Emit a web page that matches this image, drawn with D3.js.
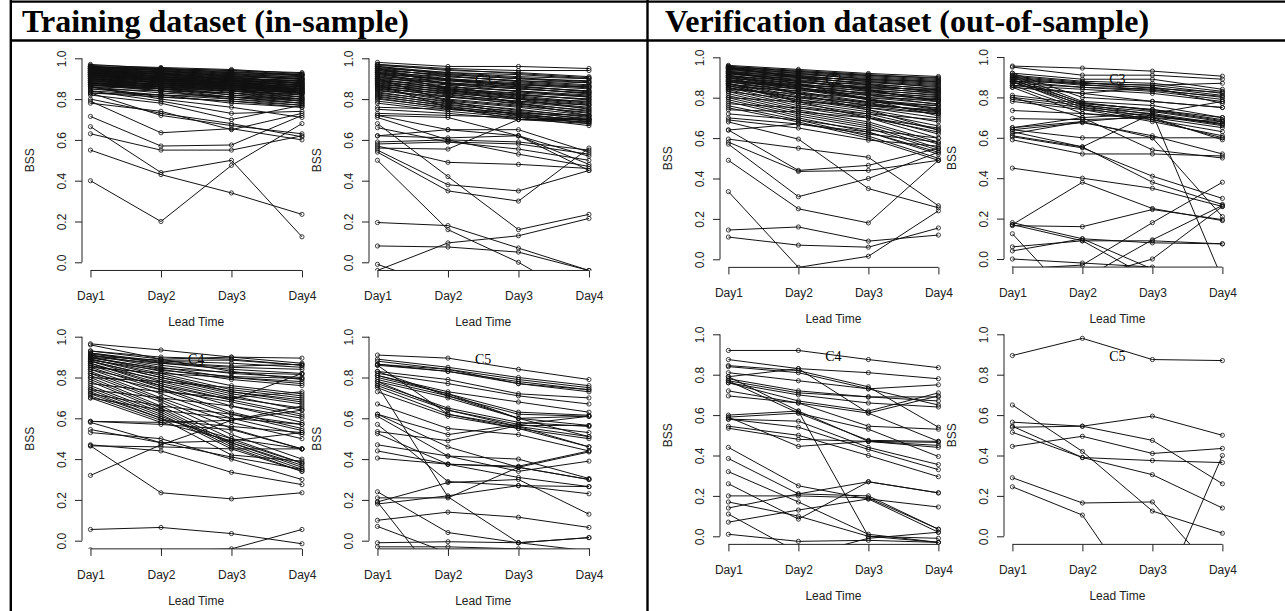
<!DOCTYPE html>
<html lang="en">
<head>
<meta charset="UTF-8">
<title>BSS by lead time</title>
<script src="https://cdn.jsdelivr.net/npm/d3@7"></script>
<style>
  body { margin: 0; background: #fff; }
  svg text { font-family: "Liberation Sans", Arial, sans-serif; }
</style>
</head>
<body>
<div id="chart"></div>
<script>
// lead times on the x axis
const days = ["Day1", "Day2", "Day3", "Day4"];
const yTicks = [0, 0.2, 0.4, 0.6, 0.8, 1.0];
const headers = ["Training dataset (in-sample)", "Verification dataset (out-of-sample)"];

// BSS per station, one row = Day1..Day4
const trainC2 = [
  [0.40, 0.20, 0.475, 0.68], [0.55, 0.43, 0.34, 0.235], [0.665, 0.44, 0.50, 0.125],
  [0.63, 0.55, 0.55, 0.62], [0.715, 0.57, 0.575, 0.72], [0.79, 0.635, 0.655, 0.60],
  [0.83, 0.72, 0.67, 0.63], [0.80, 0.73, 0.68, 0.615], [0.84, 0.79, 0.73, 0.74],
  [0.82, 0.78, 0.70, 0.77], [0.78, 0.74, 0.65, 0.73], [0.86, 0.80, 0.76, 0.71],
  [0.83, 0.82, 0.78, 0.76],
  [0.97, 0.95, 0.94, 0.93], [0.96, 0.95, 0.93, 0.92], [0.96, 0.94, 0.92, 0.91],
  [0.95, 0.94, 0.93, 0.92], [0.95, 0.93, 0.91, 0.90], [0.95, 0.92, 0.90, 0.89],
  [0.94, 0.93, 0.92, 0.90], [0.94, 0.92, 0.90, 0.88], [0.94, 0.91, 0.89, 0.87],
  [0.93, 0.92, 0.91, 0.90], [0.93, 0.91, 0.89, 0.88], [0.93, 0.90, 0.88, 0.86],
  [0.92, 0.91, 0.90, 0.89], [0.92, 0.90, 0.88, 0.86], [0.92, 0.89, 0.87, 0.85],
  [0.91, 0.90, 0.89, 0.88], [0.91, 0.89, 0.87, 0.85], [0.91, 0.88, 0.86, 0.84],
  [0.90, 0.89, 0.88, 0.87], [0.90, 0.88, 0.86, 0.84], [0.90, 0.87, 0.85, 0.83],
  [0.89, 0.88, 0.87, 0.86], [0.89, 0.87, 0.85, 0.83], [0.89, 0.86, 0.84, 0.82],
  [0.88, 0.87, 0.86, 0.85], [0.88, 0.86, 0.84, 0.81], [0.88, 0.85, 0.83, 0.80],
  [0.87, 0.86, 0.85, 0.83], [0.87, 0.85, 0.82, 0.80], [0.87, 0.84, 0.81, 0.79],
  [0.86, 0.85, 0.84, 0.82], [0.86, 0.83, 0.81, 0.78], [0.85, 0.84, 0.83, 0.81],
  [0.85, 0.82, 0.80, 0.78], [0.84, 0.82, 0.81, 0.80], [0.86, 0.81, 0.79, 0.76],
  [0.83, 0.81, 0.79, 0.77], [0.88, 0.84, 0.80, 0.77], [0.91, 0.86, 0.82, 0.79],
  [0.94, 0.90, 0.85, 0.81], [0.96, 0.93, 0.89, 0.84], [0.93, 0.89, 0.84, 0.80],
  [0.90, 0.85, 0.81, 0.78], [0.95, 0.91, 0.87, 0.83], [0.92, 0.88, 0.83, 0.79],
  [0.965, 0.955, 0.945, 0.925], [0.96, 0.945, 0.935, 0.915], [0.955, 0.95, 0.94, 0.92],
  [0.95, 0.945, 0.925, 0.915], [0.945, 0.935, 0.925, 0.905], [0.94, 0.935, 0.915, 0.90],
  [0.935, 0.925, 0.915, 0.895], [0.93, 0.925, 0.905, 0.89], [0.925, 0.915, 0.905, 0.885],
  [0.92, 0.915, 0.895, 0.88], [0.915, 0.905, 0.895, 0.875], [0.91, 0.905, 0.885, 0.87],
  [0.905, 0.895, 0.885, 0.865], [0.90, 0.895, 0.875, 0.86], [0.895, 0.885, 0.875, 0.855],
  [0.89, 0.885, 0.865, 0.85], [0.885, 0.875, 0.865, 0.845], [0.88, 0.875, 0.855, 0.84],
  [0.875, 0.865, 0.855, 0.835], [0.87, 0.865, 0.845, 0.83], [0.865, 0.855, 0.84, 0.825],
  [0.955, 0.94, 0.91, 0.875], [0.945, 0.925, 0.895, 0.865], [0.935, 0.91, 0.88, 0.85],
  [0.925, 0.90, 0.87, 0.84], [0.915, 0.895, 0.86, 0.83]
];

const trainC3 = [
  [0.50, 0.16, 0.00, -0.20], [0.68, 0.42, 0.16, 0.235], [0.195, 0.18, 0.07, -0.04],
  [0.08, 0.075, 0.05, -0.04], [-0.04, 0.095, 0.13, 0.215], [-0.01, -0.13, -0.15, -0.12],
  [0.55, 0.38, 0.35, 0.45], [0.54, 0.35, 0.30, 0.56], [0.57, 0.49, 0.48, 0.46],
  [0.56, 0.555, 0.70, 0.70], [0.62, 0.61, 0.62, 0.48], [0.72, 0.65, 0.65, 0.54],
  [0.71, 0.60, 0.59, 0.55], [0.66, 0.59, 0.555, 0.50], [0.59, 0.60, 0.53, 0.47],
  [0.72, 0.71, 0.62, 0.45], [0.62, 0.65, 0.62, 0.52], [0.58, 0.59, 0.58, 0.53],
  [0.98, 0.96, 0.96, 0.95], [0.97, 0.95, 0.94, 0.94], [0.97, 0.94, 0.93, 0.91],
  [0.96, 0.93, 0.92, 0.90], [0.96, 0.92, 0.90, 0.89], [0.95, 0.93, 0.91, 0.90],
  [0.95, 0.91, 0.89, 0.88], [0.94, 0.92, 0.90, 0.88], [0.94, 0.90, 0.87, 0.86],
  [0.93, 0.91, 0.89, 0.87], [0.93, 0.89, 0.86, 0.84], [0.92, 0.90, 0.88, 0.86],
  [0.92, 0.88, 0.85, 0.83], [0.91, 0.89, 0.87, 0.85], [0.91, 0.86, 0.84, 0.81],
  [0.90, 0.88, 0.86, 0.84], [0.90, 0.85, 0.82, 0.80], [0.89, 0.87, 0.85, 0.83],
  [0.89, 0.84, 0.81, 0.78], [0.88, 0.86, 0.84, 0.82], [0.88, 0.83, 0.80, 0.77],
  [0.87, 0.85, 0.83, 0.81], [0.87, 0.82, 0.79, 0.76], [0.86, 0.84, 0.82, 0.80],
  [0.86, 0.81, 0.78, 0.74], [0.85, 0.83, 0.80, 0.79], [0.85, 0.80, 0.77, 0.73],
  [0.84, 0.81, 0.79, 0.77], [0.83, 0.79, 0.76, 0.72], [0.82, 0.78, 0.75, 0.71],
  [0.81, 0.77, 0.74, 0.70], [0.80, 0.76, 0.73, 0.69], [0.79, 0.75, 0.72, 0.68],
  [0.78, 0.74, 0.71, 0.67], [0.76, 0.75, 0.73, 0.72], [0.75, 0.73, 0.70, 0.69],
  [0.73, 0.72, 0.71, 0.70], [0.90, 0.79, 0.72, 0.70], [0.95, 0.87, 0.80, 0.75],
  [0.93, 0.85, 0.78, 0.72], [0.87, 0.76, 0.70, 0.68],
  [0.965, 0.945, 0.925, 0.905], [0.955, 0.925, 0.905, 0.885], [0.945, 0.915, 0.885, 0.865],
  [0.935, 0.895, 0.875, 0.855], [0.925, 0.895, 0.865, 0.835], [0.915, 0.875, 0.855, 0.825],
  [0.905, 0.875, 0.835, 0.815], [0.895, 0.855, 0.825, 0.795], [0.885, 0.845, 0.815, 0.785],
  [0.875, 0.835, 0.805, 0.775], [0.865, 0.825, 0.785, 0.755], [0.855, 0.815, 0.775, 0.745],
  [0.845, 0.795, 0.765, 0.735], [0.835, 0.785, 0.745, 0.715], [0.825, 0.775, 0.735, 0.705],
  [0.815, 0.765, 0.725, 0.695], [0.805, 0.755, 0.715, 0.685]
];

const trainC4 = [
  [0.055, 0.065, 0.035, -0.015], [-0.045, -0.05, -0.04, 0.055], [0.465, 0.235, 0.205, 0.235],
  [0.32, 0.47, 0.59, 0.66], [0.47, 0.44, 0.335, 0.275], [0.465, 0.46, 0.45, 0.45],
  [0.545, 0.48, 0.41, 0.35], [0.53, 0.50, 0.40, 0.30], [0.585, 0.58, 0.49, 0.38],
  [0.585, 0.57, 0.545, 0.45], [0.58, 0.48, 0.49, 0.53],
  [0.965, 0.935, 0.90, 0.895], [0.96, 0.89, 0.90, 0.87], [0.93, 0.90, 0.89, 0.86],
  [0.92, 0.88, 0.87, 0.85], [0.92, 0.87, 0.84, 0.82], [0.91, 0.86, 0.82, 0.80],
  [0.91, 0.85, 0.80, 0.78], [0.90, 0.84, 0.79, 0.76], [0.90, 0.83, 0.76, 0.72],
  [0.89, 0.82, 0.74, 0.70], [0.89, 0.81, 0.73, 0.68], [0.88, 0.80, 0.72, 0.67],
  [0.88, 0.78, 0.70, 0.65], [0.87, 0.77, 0.69, 0.62], [0.87, 0.76, 0.66, 0.58],
  [0.86, 0.75, 0.63, 0.55], [0.85, 0.74, 0.62, 0.54], [0.84, 0.72, 0.60, 0.52],
  [0.83, 0.70, 0.58, 0.50], [0.82, 0.69, 0.55, 0.45], [0.81, 0.68, 0.52, 0.40],
  [0.80, 0.66, 0.50, 0.38], [0.79, 0.65, 0.48, 0.36], [0.78, 0.64, 0.47, 0.35],
  [0.76, 0.63, 0.46, 0.34], [0.75, 0.62, 0.45, 0.34], [0.74, 0.61, 0.48, 0.37],
  [0.73, 0.60, 0.42, 0.39], [0.72, 0.60, 0.50, 0.45], [0.71, 0.59, 0.56, 0.53],
  [0.70, 0.58, 0.59, 0.64], [0.72, 0.66, 0.62, 0.57], [0.74, 0.70, 0.66, 0.60],
  [0.80, 0.78, 0.75, 0.71], [0.85, 0.82, 0.80, 0.77], [0.90, 0.87, 0.85, 0.84],
  [0.93, 0.89, 0.83, 0.79], [0.88, 0.80, 0.73, 0.69], [0.86, 0.79, 0.71, 0.64],
  [0.82, 0.74, 0.68, 0.61], [0.70, 0.64, 0.60, 0.57], [0.77, 0.73, 0.70, 0.73],
  [0.84, 0.76, 0.69, 0.82], [0.915, 0.875, 0.855, 0.865], [0.905, 0.885, 0.885, 0.86],
  [0.895, 0.845, 0.825, 0.815], [0.885, 0.835, 0.805, 0.795]
];

const trainC5 = [
  [0.91, 0.895, 0.84, 0.79], [0.89, 0.85, 0.80, 0.76], [0.88, 0.84, 0.79, 0.75],
  [0.865, 0.83, 0.78, 0.74], [0.86, 0.83, 0.77, 0.73], [0.865, 0.84, 0.77, 0.74],
  [0.83, 0.79, 0.72, 0.70], [0.82, 0.77, 0.71, 0.67], [0.81, 0.73, 0.68, 0.63],
  [0.80, 0.72, 0.63, 0.615], [0.79, 0.71, 0.62, 0.61], [0.78, 0.70, 0.60, 0.565],
  [0.77, 0.65, 0.58, 0.56], [0.76, 0.64, 0.57, 0.53], [0.75, 0.62, 0.56, 0.51],
  [0.73, 0.61, 0.55, 0.50], [0.81, 0.72, 0.60, 0.61], [0.78, 0.64, 0.56, 0.46],
  [0.67, 0.55, 0.52, 0.44], [0.62, 0.52, 0.57, 0.61], [0.535, 0.49, 0.565, 0.565],
  [0.62, 0.46, 0.36, 0.30], [0.61, 0.415, 0.40, 0.305], [0.525, 0.375, 0.365, 0.44],
  [0.47, 0.415, 0.34, 0.39], [0.44, 0.375, 0.36, 0.30], [0.405, 0.375, 0.31, 0.265],
  [0.19, 0.285, 0.30, 0.13], [0.18, 0.22, 0.27, 0.265], [0.10, 0.14, 0.115, 0.065],
  [0.24, 0.04, -0.01, 0.015], [0.76, 0.215, -0.01, -0.05], [0.19, -0.25, -0.30, -0.30],
  [0.07, -0.06, -0.10, -0.10], [-0.01, -0.005, -0.01, 0.015], [-0.03, -0.03, -0.04, -0.05],
  [0.86, 0.62, 0.55, 0.46], [0.83, 0.71, 0.60, 0.51], [0.57, 0.29, 0.27, 0.23],
  [0.21, 0.21, 0.36, 0.435]
];

const verifC2 = [
  [0.11, 0.07, 0.06, 0.155], [0.145, 0.16, 0.09, 0.12], [0.335, -0.04, 0.015, 0.24],
  [0.49, 0.25, 0.18, 0.49], [0.57, 0.31, 0.40, 0.53], [0.58, 0.435, 0.44, 0.49],
  [0.64, 0.44, 0.465, 0.55], [0.595, 0.55, 0.505, 0.265], [0.68, 0.595, 0.35, 0.255],
  [0.64, 0.67, 0.63, 0.53], [0.69, 0.65, 0.59, 0.56], [0.70, 0.67, 0.62, 0.58],
  [0.72, 0.69, 0.64, 0.60],
  [0.96, 0.94, 0.92, 0.905], [0.955, 0.93, 0.91, 0.90], [0.95, 0.93, 0.91, 0.89],
  [0.95, 0.92, 0.90, 0.88], [0.94, 0.92, 0.89, 0.87], [0.94, 0.91, 0.88, 0.86],
  [0.93, 0.91, 0.88, 0.85], [0.93, 0.90, 0.87, 0.84], [0.92, 0.89, 0.86, 0.83],
  [0.92, 0.88, 0.85, 0.82], [0.91, 0.88, 0.84, 0.81], [0.91, 0.87, 0.83, 0.80],
  [0.90, 0.86, 0.82, 0.79], [0.90, 0.85, 0.81, 0.78], [0.89, 0.85, 0.80, 0.77],
  [0.89, 0.84, 0.79, 0.76], [0.88, 0.83, 0.78, 0.75], [0.88, 0.82, 0.77, 0.73],
  [0.87, 0.81, 0.76, 0.72], [0.87, 0.80, 0.75, 0.70], [0.86, 0.79, 0.74, 0.68],
  [0.86, 0.78, 0.73, 0.66], [0.85, 0.77, 0.72, 0.64], [0.84, 0.76, 0.71, 0.62],
  [0.83, 0.75, 0.70, 0.60], [0.82, 0.74, 0.68, 0.58], [0.81, 0.73, 0.67, 0.57],
  [0.80, 0.72, 0.66, 0.55], [0.79, 0.71, 0.65, 0.54], [0.78, 0.70, 0.63, 0.52],
  [0.76, 0.69, 0.61, 0.50], [0.75, 0.68, 0.60, 0.49], [0.74, 0.73, 0.70, 0.65],
  [0.77, 0.75, 0.72, 0.69], [0.80, 0.78, 0.76, 0.74], [0.84, 0.82, 0.80, 0.79],
  [0.88, 0.86, 0.85, 0.84], [0.92, 0.90, 0.89, 0.88], [0.95, 0.90, 0.84, 0.78],
  [0.93, 0.87, 0.79, 0.71], [0.90, 0.82, 0.74, 0.64], [0.87, 0.78, 0.70, 0.63],
  [0.85, 0.80, 0.78, 0.76], [0.83, 0.79, 0.75, 0.72], [0.91, 0.85, 0.79, 0.74],
  [0.955, 0.935, 0.915, 0.895], [0.945, 0.925, 0.905, 0.885], [0.935, 0.915, 0.895, 0.875],
  [0.925, 0.905, 0.885, 0.865], [0.915, 0.895, 0.875, 0.855], [0.905, 0.885, 0.865, 0.845],
  [0.895, 0.875, 0.855, 0.835], [0.885, 0.865, 0.845, 0.825], [0.875, 0.855, 0.835, 0.815],
  [0.865, 0.845, 0.825, 0.805], [0.855, 0.835, 0.815, 0.795], [0.945, 0.905, 0.865, 0.825],
  [0.925, 0.885, 0.835, 0.785], [0.905, 0.865, 0.815, 0.765], [0.885, 0.845, 0.795, 0.745],
  [0.865, 0.825, 0.775, 0.725], [0.845, 0.805, 0.765, 0.735]
];

const verifC3 = [
  [0.955, 0.945, 0.93, 0.905], [0.95, 0.91, 0.91, 0.89], [0.92, 0.89, 0.89, 0.84],
  [0.91, 0.88, 0.87, 0.83], [0.90, 0.87, 0.86, 0.82], [0.89, 0.86, 0.85, 0.81],
  [0.88, 0.85, 0.84, 0.80], [0.87, 0.85, 0.83, 0.79], [0.86, 0.84, 0.82, 0.78],
  [0.85, 0.82, 0.85, 0.77], [0.92, 0.80, 0.78, 0.75], [0.91, 0.78, 0.76, 0.70],
  [0.90, 0.77, 0.74, 0.69], [0.89, 0.76, 0.73, 0.68], [0.88, 0.75, 0.72, 0.67],
  [0.86, 0.74, 0.71, 0.66], [0.85, 0.72, 0.70, 0.65], [0.81, 0.77, 0.74, 0.70],
  [0.80, 0.76, 0.70, 0.68], [0.79, 0.75, 0.69, 0.63], [0.78, 0.74, 0.68, 0.61],
  [0.735, 0.72, 0.69, 0.60], [0.695, 0.69, 0.70, 0.59], [0.65, 0.68, 0.71, 0.67],
  [0.64, 0.675, 0.61, 0.52], [0.63, 0.555, 0.72, 0.78], [0.59, 0.52, 0.52, 0.51],
  [0.605, 0.55, 0.41, 0.30], [0.61, 0.555, 0.38, 0.27], [0.45, 0.40, 0.35, 0.26],
  [0.17, 0.38, 0.25, 0.19], [0.165, 0.16, 0.245, 0.195], [0.18, 0.10, -0.05, -0.20],
  [0.125, -0.25, -0.30, -0.30], [0.06, 0.09, 0.09, 0.075], [0.04, 0.10, 0.08, 0.075],
  [0.00, -0.02, -0.04, -0.10], [0.17, 0.09, -0.10, -0.20], [-0.05, -0.03, 0.18, 0.38],
  [-0.10, -0.10, 0.00, 0.26], [-0.10, -0.10, 0.095, 0.265], [0.65, 0.70, 0.72, -0.10],
  [0.62, 0.68, 0.60, 0.21], [0.64, 0.60, 0.60, 0.60], [0.88, 0.87, 0.86, 0.87],
  [0.86, 0.82, 0.78, 0.75], [0.80, 0.70, 0.54, 0.50], [0.905, 0.875, 0.845, 0.825],
  [0.895, 0.865, 0.835, 0.805], [0.885, 0.775, 0.735, 0.685], [0.875, 0.765, 0.715, 0.665]
];

const verifC4 = [
  [0.92, 0.92, 0.875, 0.835], [0.875, 0.83, 0.81, 0.78], [0.845, 0.82, 0.74, 0.54],
  [0.84, 0.81, 0.73, 0.65], [0.81, 0.77, 0.73, 0.75], [0.79, 0.83, 0.61, 0.47],
  [0.78, 0.72, 0.69, 0.69], [0.77, 0.71, 0.69, 0.67], [0.76, 0.70, 0.66, 0.64],
  [0.76, 0.67, 0.62, 0.71], [0.72, 0.66, 0.61, 0.695], [0.695, 0.66, 0.545, 0.53],
  [0.79, 0.62, 0.00, -0.03], [0.77, 0.61, 0.53, 0.395], [0.60, 0.62, 0.47, 0.465],
  [0.59, 0.61, 0.475, 0.47], [0.58, 0.57, 0.44, 0.355], [0.58, 0.54, 0.43, 0.33],
  [0.545, 0.50, 0.40, 0.295], [0.535, 0.48, 0.47, 0.44], [0.59, 0.445, 0.47, 0.45],
  [0.44, 0.25, 0.185, 0.145], [0.385, 0.21, 0.20, 0.035], [0.32, 0.17, 0.01, -0.03],
  [0.26, 0.085, 0.27, 0.215], [0.07, 0.13, 0.185, 0.02], [0.20, 0.20, 0.19, 0.035],
  [0.14, 0.21, 0.27, 0.215], [0.17, 0.10, 0.00, -0.01], [0.11, -0.08, -0.10, -0.10],
  [0.01, -0.025, -0.02, -0.03], [-0.10, -0.10, -0.01, 0.02]
];

const verifC5 = [
  [0.895, 0.98, 0.875, 0.87], [0.65, 0.42, 0.125, 0.015], [0.565, 0.545, 0.595, 0.50],
  [0.54, 0.545, 0.475, 0.26], [0.515, 0.39, 0.305, 0.14], [0.545, 0.39, 0.375, 0.365],
  [0.445, 0.495, 0.41, 0.435], [0.29, 0.165, 0.17, -0.22], [0.245, 0.105, -0.40, 0.40]
];

const panels = [
  { data: trainC2, label: "C2", ax: 82, ty: 58.3, h: 204, dx: 70.5 },
  { data: trainC3, label: "C3", ax: 369, ty: 58.3, h: 204, dx: 70.5 },
  { data: trainC4, label: "C4", ax: 82, ty: 336.7, h: 204, dx: 70.5 },
  { data: trainC5, label: "C5", ax: 369, ty: 336.7, h: 204, dx: 70.5 },
  { data: verifC2, label: "C2", ax: 720, ty: 57.3, h: 202, dx: 70 },
  { data: verifC3, label: "C3", ax: 1004, ty: 57, h: 202, dx: 70 },
  { data: verifC4, label: "C4", ax: 720, ty: 334.3, h: 202, dx: 70 },
  { data: verifC5, label: "C5", ax: 1004, ty: 334.3, h: 202, dx: 70 }
];

const width = 1285, height = 611;
const svg = d3.select("#chart").append("svg")
    .attr("width", width)
    .attr("height", height);

// table frame
const frame = svg.append("g").attr("stroke", "#000").attr("stroke-width", 2.4);
frame.append("line").attr("x1", 10).attr("x2", width).attr("y1", 1.6).attr("y2", 1.6);
frame.append("line").attr("x1", 10).attr("x2", width).attr("y1", 40.5).attr("y2", 40.5);
frame.append("line").attr("x1", 10.8).attr("x2", 10.8).attr("y1", 0).attr("y2", height);
frame.append("line").attr("x1", 647.5).attr("x2", 647.5).attr("y1", 0).attr("y2", height);

svg.selectAll("text.header")
  .data(headers)
  .join("text")
    .attr("class", "header")
    .attr("x", (d, i) => i === 0 ? 22 : 665)
    .attr("y", 32)
    .style("font-family", "'Liberation Serif', 'Times New Roman', serif")
    .style("font-weight", "bold")
    .style("font-size", "32px")
    .text(d => d);

const line = d3.line();

panels.forEach((p, k) => {
  const x = d3.scaleLinear()
      .domain([0.88, 4.12])
      .range([p.ax, p.ax + 3.24 * p.dx]);
  const y = d3.scaleLinear()
      .domain([-0.04, 1.04])
      .range([p.ty + 1.04 * p.h, p.ty - 0.04 * p.h]);

  const g = svg.append("g");
  const clipId = "clip" + k;
  g.append("clipPath").attr("id", clipId)
    .append("rect")
      .attr("x", x(0.88)).attr("y", y(1.04))
      .attr("width", x(4.12) - x(0.88))
      .attr("height", y(-0.04) - y(1.04));

  const plot = g.append("g").attr("clip-path", `url(#${clipId})`);

  // cluster label, drawn under the lines
  plot.append("text")
      .attr("x", x(2.5))
      .attr("y", y(0.89))
      .attr("text-anchor", "middle")
      .attr("dominant-baseline", "central")
      .style("font-family", "'Liberation Serif', 'Times New Roman', serif")
      .style("font-size", "14px")
      .text(p.label);

  plot.selectAll("path.series")
    .data(p.data)
    .join("path")
      .attr("class", "series")
      .attr("fill", "none")
      .attr("stroke", "#111")
      .attr("stroke-width", 1)
      .attr("d", d => line(d.map((v, i) => [x(i + 1), y(v)])));

  plot.selectAll("circle")
    .data(p.data.flatMap(d => d.map((v, i) => [i + 1, v])))
    .join("circle")
      .attr("cx", d => x(d[0]))
      .attr("cy", d => y(d[1]))
      .attr("r", 2.1)
      .attr("fill", "none")
      .attr("stroke", "#111")
      .attr("stroke-width", 0.8);

  // y axis
  const yAxis = g.append("g")
      .attr("transform", `translate(${p.ax},0)`)
      .call(d3.axisLeft(y).tickValues(yTicks).tickSize(7).tickFormat(d3.format(".1f")));
  yAxis.select(".domain").attr("d", `M0,${y(0)}V${y(1)}`);
  yAxis.selectAll("text")
      .attr("x", null).attr("dy", null)
      .attr("text-anchor", "middle")
      .attr("transform", "translate(-16,0) rotate(-90)");

  // x axis
  const xAxis = g.append("g")
      .attr("transform", `translate(0,${y(-0.04)})`)
      .call(d3.axisBottom(x).tickValues([1, 2, 3, 4]).tickSize(7).tickFormat((d, i) => days[i]));
  xAxis.select(".domain").attr("d", `M${x(1)},0H${x(4)}`);
  xAxis.selectAll("text").attr("y", 30).attr("dy", null);

  [yAxis, xAxis].forEach(a => {
    a.selectAll("text").style("font-size", "12px").attr("fill", "#222")
      .style("font-family", "'Liberation Sans', Arial, sans-serif");
    a.selectAll("line, path").attr("stroke", "#222");
  });

  g.append("text")
      .attr("transform", `translate(${p.ax - 48},${(y(-0.04) + y(1.04)) / 2}) rotate(-90)`)
      .attr("text-anchor", "middle")
      .attr("fill", "#222")
      .style("font-size", "12px")
      .text("BSS");

  g.append("text")
      .attr("x", (x(0.88) + x(4.12)) / 2)
      .attr("y", y(-0.04) + 56)
      .attr("text-anchor", "middle")
      .attr("fill", "#222")
      .style("font-size", "12px")
      .text("Lead Time");
});
</script>
</body>
</html>
